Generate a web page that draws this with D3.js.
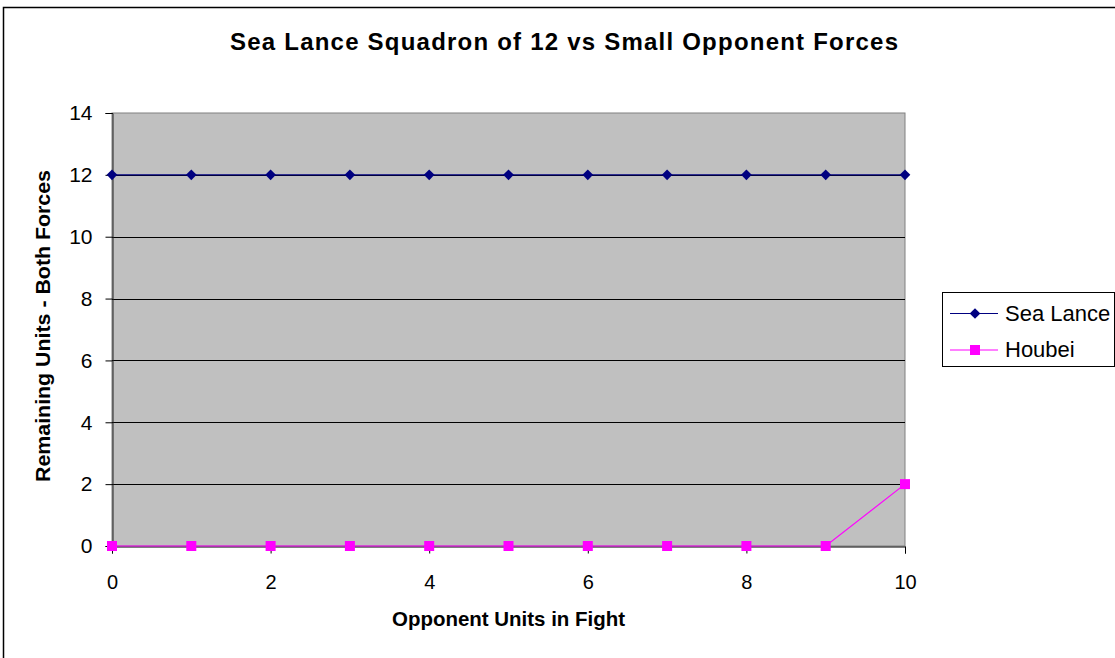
<!DOCTYPE html>
<html><head><meta charset="utf-8">
<script src="https://cdn.jsdelivr.net/npm/d3@7"></script>
<style>body{margin:0;background:#fff}svg{display:block}text{font-family:"Liberation Sans",Arial,sans-serif}</style>
</head><body>
<svg id="c" width="1115" height="658"></svg>
<script>
const xValues = [0,1,2,3,4,5,6,7,8,9,10];
const seaLance = [12,12,12,12,12,12,12,12,12,12,12];
const houbei = [0,0,0,0,0,0,0,0,0,0,2];
const xTicks = [0,2,4,6,8,10];
const yTicks = [0,2,4,6,8,10,12,14];
const seriesNames = ["Sea Lance","Houbei"];

const svg = d3.select("#c");
// outer frame
svg.append("rect").attr("x",3.5).attr("y",7.5).attr("width",1130).attr("height",670)
  .attr("fill","#fff").attr("stroke","#000").attr("stroke-width",1.5);

const L=112,R=905,T=113,B=546;
const x = d3.scaleLinear().domain([0,10]).range([L,R]);
const y = d3.scaleLinear().domain([0,14]).range([B,T]);

svg.append("rect").attr("x",L).attr("y",T).attr("width",R-L).attr("height",B-T)
  .attr("fill","#c0c0c0").attr("stroke","#808080").attr("stroke-width",1);

// gridlines
svg.append("g").selectAll("line").data(yTicks.filter(d=>d>0&&d<14)).join("line")
  .attr("x1",L).attr("x2",R).attr("y1",d=>Math.round(y(d))+0.5).attr("y2",d=>Math.round(y(d))+0.5)
  .attr("stroke","#000").attr("stroke-width",1);

// y axis
const ya = svg.append("g").attr("transform",`translate(${L+0.5},0)`)
  .call(d3.axisLeft(y).tickValues(yTicks).tickSize(7).tickPadding(13).tickFormat(d3.format("d")));
ya.select(".domain").attr("stroke","#222");
ya.selectAll(".tick line").attr("stroke","#000");
ya.selectAll("text").attr("font-size",21).attr("fill","#000").attr("font-family","Liberation Sans, Arial");

// x axis
const xa = svg.append("g").attr("transform",`translate(0,${B+0.5})`)
  .call(d3.axisBottom(x).tickValues(xTicks).tickSize(7).tickPadding(21).tickFormat(d3.format("d")));
xa.select(".domain").attr("stroke","#000");
xa.selectAll(".tick line").attr("stroke","#000");
xa.selectAll("text").attr("font-size",20).attr("fill","#000").attr("font-family","Liberation Sans, Arial");

const line = d3.line().x((d,i)=>x(xValues[i])).y(d=>y(d));
svg.append("path").datum(seaLance).attr("d",line).attr("fill","none").attr("stroke","#000080").attr("stroke-width",1.2);
svg.append("path").datum(houbei).attr("d",line).attr("fill","none").attr("stroke","#ff00ff").attr("stroke-width",1.2);

const diamond = d3.symbol().type(d3.symbolDiamond2).size(72);
svg.append("g").selectAll("path").data(seaLance).join("path")
  .attr("d",diamond).attr("transform",(d,i)=>`translate(${x(xValues[i])},${y(d)})`).attr("fill","#000080");
svg.append("g").selectAll("rect").data(houbei).join("rect")
  .attr("x",(d,i)=>x(xValues[i])-5).attr("y",d=>y(d)-5).attr("width",10).attr("height",10).attr("fill","#ff00ff");

// title
svg.append("text").attr("x",230).attr("y",50)
  .attr("font-size",24).attr("font-weight","bold").attr("textLength",668).attr("lengthAdjust","spacing")
  .text("Sea Lance Squadron of 12 vs Small Opponent Forces");
svg.append("text").attr("x",392).attr("y",626)
  .attr("font-size",21).attr("font-weight","bold").attr("textLength",233).attr("lengthAdjust","spacingAndGlyphs")
  .text("Opponent Units in Fight");
svg.append("text").attr("transform","translate(50,482) rotate(-90)")
  .attr("font-size",21).attr("font-weight","bold").attr("textLength",312).attr("lengthAdjust","spacingAndGlyphs")
  .text("Remaining Units - Both Forces");

// legend
const lg = svg.append("g");
lg.append("rect").attr("x",942.5).attr("y",292.5).attr("width",172).attr("height",74)
  .attr("fill","#fff").attr("stroke","#000").attr("stroke-width",1);
const colors=["#000080","#ff00ff"];
seriesNames.forEach((n,i)=>{
  const cy = 313.5 + i*36.5;
  lg.append("line").attr("x1",950).attr("x2",998).attr("y1",cy).attr("y2",cy).attr("stroke",colors[i]).attr("stroke-width",1.2);
  if(i===0) lg.append("path").attr("d",diamond).attr("transform",`translate(975,${cy})`).attr("fill",colors[i]);
  else lg.append("rect").attr("x",970).attr("y",cy-5).attr("width",10).attr("height",10).attr("fill",colors[i]);
  lg.append("text").attr("x",1005).attr("y",cy+7).attr("font-size",22).text(n);
});
</script>
</body></html>
